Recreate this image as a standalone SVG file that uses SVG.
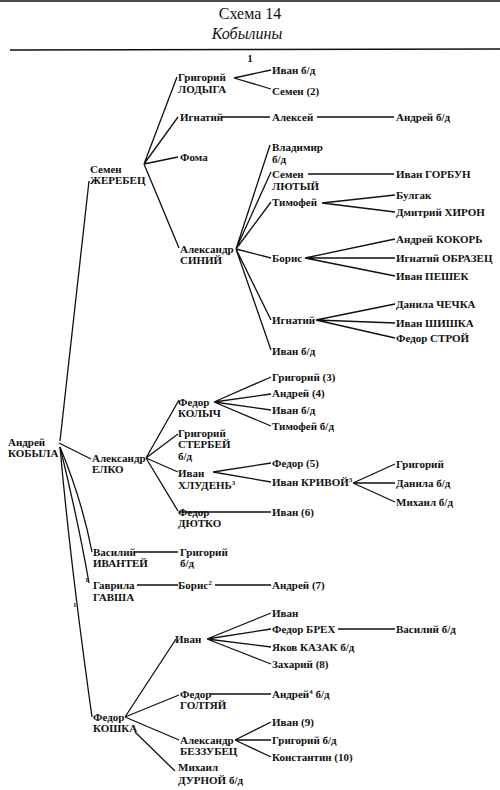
<svg xmlns="http://www.w3.org/2000/svg" width="500" height="790" viewBox="0 0 500 790">
<style>
text{font-family:"Liberation Serif","DejaVu Serif",serif;font-size:11px;font-weight:bold;fill:#111}
.title{font-family:"Liberation Serif",serif;font-size:16px;font-weight:normal;text-anchor:middle}
.it{font-style:italic}
.sup{font-size:7px}
.c line,.c path{stroke:#111;stroke-width:1.3;fill:none}
</style>
<rect width="500" height="790" fill="#fff"/>
<g id="header">
<line x1="0" y1="1" x2="500" y2="1" stroke="#111" stroke-width="1.5"/>
<text class="title" x="250" y="19">Схема 14</text>
<text class="title it" x="247" y="39">Кобылины</text>
<line x1="10" y1="50" x2="500" y2="49" stroke="#111" stroke-width="1.3"/>
<text x="250" y="62" text-anchor="middle">1</text>
</g>
<g class="c" id="connectors">
<path d="M60,441 L89,181"/>
<path d="M59,443 L91,459"/>
<path d="M60,447 Q82,500 92,552"/>
<path d="M60,447 Q78,520 89,583"/>
<path d="M60,447 Q70,560 92,717"/>
<path d="M144,164 L177,77 M144,164 L178,117 M144,164 L178,157 M144,164 L179,248"/>
<path d="M234,78 L271,70 M234,78 L271,89"/>
<path d="M222,117 L270,117 M317,117 L394,117"/>
<path d="M236,249 L270,145 M236,249 L271,172 M236,249 L271,202 M236,249 L271,258 M236,249 L271,320 M236,249 L271,350"/>
<path d="M308,174 L394,174"/>
<path d="M322,203 L395,195 M322,203 L395,212"/>
<path d="M305,258 L395,239 M305,258 L395,258 M305,258 L395,276"/>
<path d="M316,320 L395,304 M316,320 L395,323 M316,320 L395,338"/>
<path d="M146,458 L179,400 M146,458 L178,434 M146,458 L178,472 M146,458 L178,511"/>
<path d="M214,402 L271,377 M214,402 L271,394 M214,402 L271,410 M214,402 L271,426"/>
<path d="M213,472 L271,463 M213,472 L271,482"/>
<path d="M353,483 L395,464 M353,483 L395,483 M353,483 L395,502"/>
<path d="M180,512 L271,512"/>
<path d="M135,552 L178,552"/>
<path d="M137,585 L178,585 M215,585 L271,585"/>
<path d="M125,717 L176,639 M125,717 L179,695 M125,717 L179,740 M135,732 L175,771"/>
<path d="M207,639 L271,613 M207,639 L271,629 M207,639 L271,647 M207,639 L271,664"/>
<path d="M338,629 L395,629"/>
<path d="M210,694 L271,694"/>
<path d="M235,740 L271,722 M235,740 L271,740 M235,740 L271,757"/>
</g>
<g id="n-kobyla"><text x="8" y="446">Андрей</text><text x="8" y="457">КОБЫЛА</text></g>
<g id="n-zherebets"><text x="90" y="173">Семен</text><text x="90" y="184">ЖЕРЕБЕЦ</text></g>
<g id="n-lodyga"><text x="178" y="81">Григорий</text><text x="178" y="93">ЛОДЫГА</text></g>
<g id="n-ignatiy1"><text x="180" y="121">Игнатий</text></g>
<g id="n-foma"><text x="180" y="161">Фома</text></g>
<g id="n-siniy"><text x="180" y="253">Александр</text><text x="180" y="264">СИНИЙ</text></g>
<g id="n-ivan1"><text x="272" y="74">Иван б/д</text></g>
<g id="n-semen2"><text x="272" y="95">Семен (2)</text></g>
<g id="n-aleksey"><text x="272" y="121">Алексей</text></g>
<g id="n-andrey-bd"><text x="396" y="121">Андрей б/д</text></g>
<g id="n-vladimir"><text x="272" y="151">Владимир</text><text x="272" y="163">б/д</text></g>
<g id="n-lyutyy"><text x="272" y="178">Семен</text><text x="272" y="190">ЛЮТЫЙ</text></g>
<g id="n-gorbun"><text x="396" y="178">Иван ГОРБУН</text></g>
<g id="n-timofey1"><text x="272" y="206">Тимофей</text></g>
<g id="n-bulgak"><text x="396" y="199">Булгак</text></g>
<g id="n-khiron"><text x="396" y="216">Дмитрий ХИРОН</text></g>
<g id="n-boris1"><text x="272" y="262">Борис</text></g>
<g id="n-kokor"><text x="396" y="243">Андрей КОКОРЬ</text></g>
<g id="n-obrazets"><text x="396" y="262">Игнатий ОБРАЗЕЦ</text></g>
<g id="n-peshek"><text x="396" y="280">Иван ПЕШЕК</text></g>
<g id="n-ignatiy2"><text x="272" y="324">Игнатий</text></g>
<g id="n-chechka"><text x="396" y="308">Данила ЧЕЧКА</text></g>
<g id="n-shishka"><text x="396" y="327">Иван ШИШКА</text></g>
<g id="n-stroy"><text x="396" y="342">Федор СТРОЙ</text></g>
<g id="n-ivan-bd2"><text x="272" y="355">Иван б/д</text></g>
<g id="n-elko"><text x="92" y="462">Александр</text><text x="92" y="473">ЕЛКО</text></g>
<g id="n-kolych"><text x="178" y="406">Федор</text><text x="178" y="417">КОЛЫЧ</text></g>
<g id="n-sterbey"><text x="178" y="437">Григорий</text><text x="178" y="448">СТЕРБЕЙ</text><text x="178" y="460">б/д</text></g>
<g id="n-khluden"><text x="178" y="477">Иван</text><text x="178" y="489">ХЛУДЕНЬ<tspan class="sup" dy="-4">3</tspan></text></g>
<g id="n-dyutko"><text x="178" y="516">Федор</text><text x="178" y="527">ДЮТКО</text></g>
<g id="n-grigoriy3"><text x="272" y="381">Григорий (3)</text></g>
<g id="n-andrey4"><text x="272" y="397">Андрей (4)</text></g>
<g id="n-ivan-bd3"><text x="272" y="414">Иван б/д</text></g>
<g id="n-timofey-bd"><text x="272" y="430">Тимофей б/д</text></g>
<g id="n-fedor5"><text x="272" y="467">Федор (5)</text></g>
<g id="n-krivoy"><text x="272" y="486">Иван КРИВОЙ<tspan class="sup" dy="-4">3</tspan></text></g>
<g id="n-grigoriy-k"><text x="396" y="468">Григорий</text></g>
<g id="n-danila-bd"><text x="396" y="487">Данила б/д</text></g>
<g id="n-mikhail-bd"><text x="396" y="506">Михаил б/д</text></g>
<g id="n-ivan6"><text x="272" y="516">Иван (6)</text></g>
<g id="n-ivantey"><text x="93" y="556">Василий</text><text x="93" y="567">ИВАНТЕЙ</text></g>
<g id="n-grigoriy-bd"><text x="180" y="556">Григорий</text><text x="180" y="567">б/д</text></g>
<g id="n-gavsha"><text x="93" y="589">Гаврила</text><text x="93" y="601">ГАВША</text></g>
<g id="n-boris2"><text x="178" y="589">Борис<tspan class="sup" dy="-4">2</tspan></text></g>
<g id="n-andrey7"><text x="272" y="589">Андрей (7)</text></g>
<g id="n-koshka"><text x="93" y="721">Федор</text><text x="93" y="732">КОШКА</text></g>
<g id="n-ivan-k"><text x="175" y="643">Иван</text></g>
<g id="n-ivan-a"><text x="272" y="617">Иван</text></g>
<g id="n-brekh"><text x="272" y="633">Федор БРЕХ</text></g>
<g id="n-vasiliy-bd"><text x="396" y="633">Василий б/д</text></g>
<g id="n-kazak"><text x="272" y="651">Яков КАЗАК б/д</text></g>
<g id="n-zakhariy"><text x="272" y="668">Захарий (8)</text></g>
<g id="n-goltyay"><text x="180" y="698">Федор</text><text x="180" y="709">ГОЛТЯЙ</text></g>
<g id="n-andrey-bd4"><text x="272" y="698">Андрей<tspan class="sup" dy="-4">4</tspan><tspan dy="4"> б/д</tspan></text></g>
<g id="n-bezzubets"><text x="180" y="744">Александр</text><text x="180" y="755">БЕЗЗУБЕЦ</text></g>
<g id="n-ivan9"><text x="272" y="726">Иван (9)</text></g>
<g id="n-grigoriy-bd2"><text x="272" y="744">Григорий б/д</text></g>
<g id="n-konstantin"><text x="272" y="761">Константин (10)</text></g>
<g id="n-durnoy"><text x="178" y="771">Михаил</text><text x="178" y="784">ДУРНОЙ б/д</text></g>
<g id="notes"><text class="sup" x="85" y="582">1</text><text class="sup" x="73" y="607">1</text></g>
</svg>
